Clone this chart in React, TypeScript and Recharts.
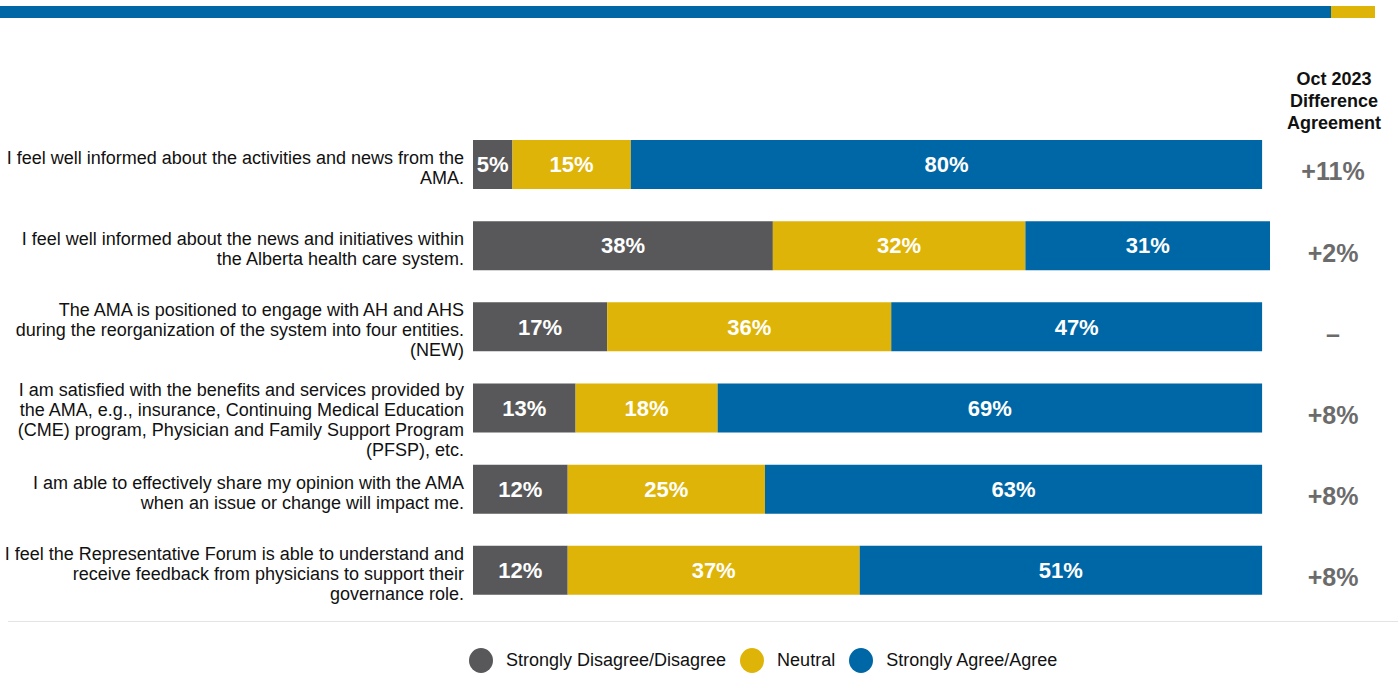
import React from "react"
import { BarChart, Bar, XAxis, YAxis, LabelList } from "recharts"

const CATEGORY_LINES = [
  ["I feel well informed about the activities and news from the", "AMA."],
  ["I feel well informed about the news and initiatives within", "the Alberta health care system."],
  [
    "The AMA is positioned to engage with AH and AHS",
    "during the reorganization of the system into four entities.",
    "(NEW)",
  ],
  [
    "I am satisfied with the benefits and services provided by",
    "the AMA, e.g., insurance, Continuing Medical Education",
    "(CME) program, Physician and Family Support Program",
    "(PFSP), etc.",
  ],
  ["I am able to effectively share my opinion with the AMA", "when an issue or change will impact me."],
  [
    "I feel the Representative Forum is able to understand and",
    "receive feedback from physicians to support their",
    "governance role.",
  ],
]

const DISAGREE = [5, 38, 17, 13, 12, 12]
const NEUTRAL = [15, 32, 36, 18, 25, 37]
const AGREE = [80, 31, 47, 69, 63, 51]
const DIFFERENCE = ["+11%", "+2%", "–", "+8%", "+8%", "+8%"]

const SERIES = [
  { key: "disagree", name: "Strongly Disagree/Disagree", color: "#58585A" },
  { key: "neutral", name: "Neutral", color: "#DEB408" },
  { key: "agree", name: "Strongly Agree/Agree", color: "#0067A6" },
]

const FONT = "Arial, 'Liberation Sans', sans-serif"
const BAR_SIZE = 49

const data = CATEGORY_LINES.map((lines, i) => ({
  label: lines.join(" "),
  disagree: DISAGREE[i],
  neutral: NEUTRAL[i],
  agree: AGREE[i],
}))

const LeftTick = (props: any) => {
  const { x, y, payload } = props
  const lines = CATEGORY_LINES[payload.index] || []
  const lh = 20
  // centre the block on the bar, but never start above the bar's top edge
  const centred = y + 3 - ((lines.length - 1) * lh) / 2
  const startY = Math.max(centred, y - BAR_SIZE / 2 + 6)
  return (
    <text x={x} y={startY} textAnchor="end" fontSize={18} fill="#111" fontFamily={FONT}>
      {lines.map((l, j) => (
        <tspan key={j} x={x} y={startY + j * lh} dy="0.35em">
          {l}
        </tspan>
      ))}
    </text>
  )
}

const RightTick = (props: any) => {
  const { x, y, payload } = props
  return (
    <text
      x={x}
      y={y + 7}
      dy="0.35em"
      textAnchor="middle"
      fontSize={25}
      fontWeight="bold"
      fill="#6b6b6b"
      fontFamily={FONT}
    >
      {DIFFERENCE[payload.index]}
    </text>
  )
}

export default function App() {
  return (
    <div style={{ position: "absolute", left: 0, top: 0, width: 1398, height: 675, background: "#fff", fontFamily: FONT }}>
      {/* top rule */}
      <div style={{ position: "absolute", left: 0, top: 6, width: 1331, height: 12, background: "#0067A6" }} />
      <div style={{ position: "absolute", left: 1331, top: 6, width: 44, height: 12, background: "#DEB408" }} />

      {/* right column header */}
      <div
        style={{
          position: "absolute",
          left: 1264,
          top: 68,
          width: 140,
          textAlign: "center",
          fontSize: 18,
          fontWeight: "bold",
          lineHeight: "22px",
          color: "#111",
        }}
      >
        Oct 2023
        <br />
        Difference
        <br />
        Agreement
      </div>

      <BarChart
        width={1398}
        height={675}
        data={data}
        layout="vertical"
        margin={{ top: 124, right: 0, bottom: 64, left: 8 }}
        style={{ position: "absolute", left: 0, top: 0 }}
      >
        <XAxis type="number" hide domain={[0, 101]} />
        <YAxis
          yAxisId="left"
          type="category"
          dataKey="label"
          width={465}
          axisLine={false}
          tickLine={false}
          tickSize={0}
          tickMargin={9}
          interval={0}
          tick={<LeftTick />}
        />
        <YAxis
          yAxisId="right"
          orientation="right"
          type="category"
          dataKey="label"
          width={128}
          axisLine={false}
          tickLine={false}
          tickSize={0}
          tickMargin={63}
          interval={0}
          tick={<RightTick />}
        />
        {SERIES.map((s) => (
          <Bar
            key={s.key}
            yAxisId="left"
            dataKey={s.key}
            name={s.name}
            stackId="a"
            fill={s.color}
            barSize={BAR_SIZE}
            isAnimationActive={false}
          >
            <LabelList
              dataKey={s.key}
              position="center"
              fill="#fff"
              fontSize={22}
              fontWeight="bold"
              fontFamily={FONT}
              formatter={(v: any) => `${v}%`}
            />
          </Bar>
        ))}
      </BarChart>

      {/* divider */}
      <div style={{ position: "absolute", left: 8, top: 621, width: 1390, height: 1, background: "#e3e3e3" }} />

      {/* legend */}
      <div
        style={{
          position: "absolute",
          left: 469,
          top: 648,
          display: "flex",
          alignItems: "center",
          fontSize: 18,
          color: "#111",
        }}
      >
        {SERIES.map((s, i) => (
          <div key={s.key} style={{ display: "flex", alignItems: "center", marginRight: i < SERIES.length - 1 ? 14 : 0 }}>
            <div style={{ width: 24, height: 25, borderRadius: "50%", background: s.color, marginRight: 13 }} />
            <span>{s.name}</span>
          </div>
        ))}
      </div>
    </div>
  )
}
